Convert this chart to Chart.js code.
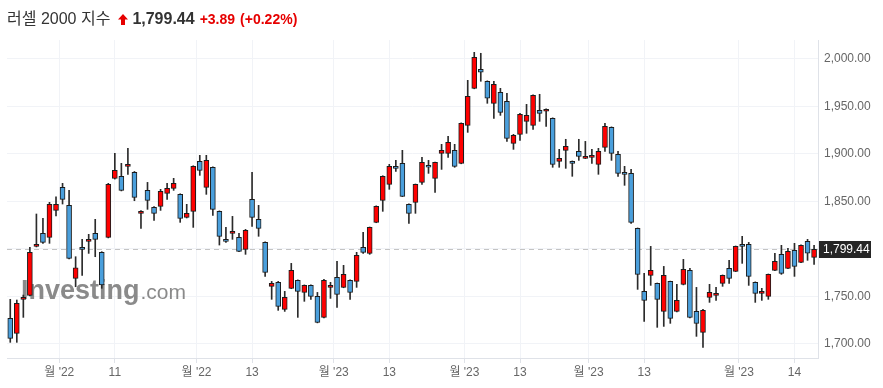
<!DOCTYPE html>
<html>
<head>
<meta charset="utf-8">
<script src="https://cdn.jsdelivr.net/npm/chart.js@4"></script>
<style>
    body { margin: 0; background: #fff; }
    .wrap { position: relative; width: 883px; height: 388px; }
    .head {
        position: absolute; left: 7px; top: 5px;
        font-family: "Liberation Sans", Arial, "Noto Sans CJK KR", sans-serif;
        white-space: nowrap; color: #333;
    }
    .head .name { font-size: 16px; }
    .head .last { font-size: 16px; font-weight: bold; margin-left: 4px; }
    .head .chg { font-size: 14px; font-weight: bold; color: #e60000; margin-left: 5px; }
    .head svg { margin-left: 8px; vertical-align: -1px; }
    canvas { position: absolute; left: 0; top: 0; }
</style>
</head>
<body>
<div class="wrap">
    <canvas id="c" width="883" height="388"></canvas>
    <div class="head">
        <span class="name">러셀 2000 지수</span><svg width="10" height="11" viewBox="0 0 10 11"><path d="M5 0 L10 5.5 L7 5.5 L7 11 L3 11 L3 5.5 L0 5.5 Z" fill="#e60000"/></svg><span class="last">1,799.44</span><span class="chg">+3.89</span><span class="chg">(+0.22%)</span>
    </div>
</div>
<script>
// daily candles
const opens = [1726.7, 1710.9, 1746.8, 1751.0, 1802.6, 1816.3, 1812.1, 1840.5, 1864.8, 1845.8,
    1768.9, 1801.6, 1807.9, 1816.3, 1796.3, 1812.1, 1874.3, 1876.4, 1886.9, 1880.6,
    1837.4, 1861.6, 1843.7, 1844.8, 1858.5, 1863.7, 1857.4, 1833.2, 1839.5, 1892.2,
    1864.8, 1885.9, 1839.5, 1810.0, 1816.3, 1812.1, 1799.4, 1852.1, 1831.1, 1806.8,
    1760.5, 1764.7, 1736.2, 1758.4, 1766.8, 1754.1, 1761.5, 1749.9, 1727.8, 1759.4,
    1769.9, 1759.4, 1766.8, 1765.7, 1801.6, 1795.2, 1827.9, 1851.1, 1867.9, 1886.9,
    1890.1, 1846.9, 1849.0, 1870.0, 1888.0, 1874.3, 1900.6, 1900.6, 1903.8, 1890.1,
    1930.1, 1969.1, 1989.1, 1976.5, 1953.3, 1964.9, 1955.4, 1911.1, 1920.6, 1934.3,
    1930.1, 1945.9, 1944.9, 1937.5, 1892.2, 1903.8, 1892.2, 1902.7, 1895.3, 1896.4,
    1889.0, 1906.9, 1928.0, 1899.5, 1880.6, 1879.5, 1821.6, 1755.2, 1772.1, 1763.6,
    1734.1, 1765.7, 1734.1, 1762.6, 1777.3, 1734.1, 1712.0, 1748.9, 1751.0, 1763.6,
    1779.4, 1776.3, 1804.7, 1804.7, 1764.7, 1753.1, 1749.9, 1777.3, 1794.2, 1779.4,
    1798.4, 1785.8, 1807.9, 1791.0];
const highs = [1746.8, 1746.1, 1751.3, 1801.6, 1836.7, 1832.1, 1849.0, 1854.9, 1869.0, 1861.6,
    1791.7, 1810.0, 1815.3, 1831.1, 1797.0, 1869.0, 1900.6, 1890.1, 1905.9, 1881.5,
    1840.2, 1870.0, 1844.5, 1862.7, 1869.0, 1874.3, 1858.0, 1846.9, 1887.5, 1898.5,
    1898.5, 1886.5, 1840.0, 1822.6, 1834.2, 1816.3, 1820.5, 1880.6, 1845.8, 1807.5,
    1765.7, 1765.7, 1755.2, 1784.7, 1767.3, 1762.0, 1762.0, 1754.1, 1767.8, 1764.7,
    1786.8, 1782.6, 1767.3, 1796.3, 1817.4, 1823.0, 1845.3, 1877.0, 1889.0, 1893.2,
    1903.8, 1847.3, 1868.3, 1896.4, 1893.2, 1891.5, 1910.1, 1918.5, 1910.1, 1932.7,
    1977.5, 2007.0, 2006.0, 1977.0, 1976.5, 1969.1, 1963.8, 1920.6, 1942.7, 1952.2,
    1962.2, 1962.8, 1947.5, 1938.0, 1904.8, 1915.4, 1892.6, 1915.4, 1913.2, 1904.8,
    1905.9, 1932.2, 1928.5, 1902.7, 1886.9, 1883.7, 1822.0, 1774.2, 1802.6, 1764.0,
    1781.5, 1766.0, 1762.6, 1788.9, 1779.4, 1759.4, 1736.2, 1762.6, 1759.4, 1772.5,
    1787.9, 1803.0, 1813.2, 1806.8, 1765.2, 1758.4, 1773.5, 1795.2, 1803.7, 1800.5,
    1805.8, 1804.2, 1810.0, 1803.7];
const lows = [1701.5, 1701.5, 1727.8, 1750.5, 1802.0, 1805.8, 1805.8, 1834.6, 1847.2, 1789.5,
    1760.1, 1772.1, 1795.2, 1791.7, 1758.4, 1811.5, 1873.5, 1861.0, 1878.5, 1850.7,
    1821.6, 1841.6, 1830.0, 1840.5, 1852.1, 1861.6, 1827.9, 1832.5, 1822.6, 1877.4,
    1857.4, 1835.3, 1804.0, 1806.8, 1810.0, 1797.0, 1794.2, 1823.7, 1813.2, 1771.0,
    1746.8, 1735.2, 1734.1, 1758.0, 1727.8, 1744.7, 1746.8, 1722.0, 1727.3, 1747.8,
    1738.3, 1759.0, 1746.8, 1759.4, 1795.2, 1794.2, 1827.5, 1839.5, 1862.7, 1881.6,
    1855.0, 1826.8, 1837.4, 1867.9, 1879.5, 1859.5, 1883.7, 1896.4, 1885.9, 1889.6,
    1922.7, 1968.6, 1976.5, 1953.3, 1937.5, 1940.6, 1913.2, 1904.8, 1914.3, 1921.7,
    1925.9, 1934.3, 1929.0, 1885.9, 1885.9, 1884.8, 1876.4, 1893.2, 1895.0, 1890.1,
    1878.5, 1902.7, 1893.2, 1876.4, 1866.9, 1826.8, 1757.3, 1723.6, 1761.5, 1717.3,
    1718.3, 1721.5, 1733.6, 1762.0, 1727.3, 1707.8, 1696.2, 1743.6, 1745.7, 1760.5,
    1763.6, 1776.0, 1784.7, 1761.5, 1743.6, 1745.7, 1746.8, 1777.0, 1773.1, 1779.0,
    1771.0, 1785.3, 1787.9, 1783.6];
const closes = [1705.7, 1742.6, 1748.9, 1796.3, 1804.7, 1806.8, 1846.9, 1846.9, 1852.1, 1790.0,
    1780.1, 1799.4, 1810.0, 1810.0, 1761.9, 1867.9, 1882.7, 1861.6, 1889.0, 1854.2,
    1839.5, 1851.1, 1837.4, 1860.6, 1863.7, 1869.0, 1832.1, 1837.4, 1886.9, 1882.7,
    1893.2, 1841.6, 1813.2, 1807.9, 1818.4, 1797.3, 1819.5, 1833.2, 1821.6, 1775.2,
    1763.6, 1739.4, 1748.9, 1777.3, 1755.2, 1761.5, 1749.9, 1722.5, 1766.8, 1761.5,
    1752.0, 1773.1, 1754.1, 1793.1, 1796.3, 1822.6, 1844.8, 1876.4, 1886.9, 1884.8,
    1855.3, 1837.4, 1867.9, 1891.1, 1885.9, 1891.1, 1903.8, 1912.2, 1886.9, 1932.2,
    1960.7, 2001.8, 1986.0, 1958.6, 1973.3, 1943.8, 1916.4, 1919.6, 1941.7, 1940.6,
    1961.7, 1942.7, 1947.0, 1889.0, 1895.3, 1908.0, 1890.1, 1897.4, 1897.4, 1898.5,
    1902.7, 1929.0, 1900.6, 1879.5, 1878.5, 1827.9, 1773.1, 1745.7, 1777.3, 1746.8,
    1772.1, 1726.7, 1745.7, 1778.4, 1727.8, 1721.5, 1735.2, 1754.1, 1753.1, 1772.1,
    1768.9, 1802.6, 1802.6, 1771.0, 1753.1, 1755.2, 1773.1, 1786.8, 1774.2, 1797.3,
    1781.5, 1803.7, 1795.55, 1799.44];

// x axis: candle index where each label sits, and its text
const tickIdx = [7.5, 16, 28.5, 37, 49.5, 58, 69.5, 78, 88.5, 97, 111.5, 120];
const tickLabels = ["월 '22", '11', "월 '22", '13', "월 '23", '13', "월 '23", '13', "월 '23", '13', "월 '23", '14'];

const lastClose = closes[closes.length - 1];
const upColor = '#ff0000';
const downColor = '#4a9fdc';

const fmt = v => v.toLocaleString('en-US', { minimumFractionDigits: 2, maximumFractionDigits: 2 });

const extras = {
    id: 'extras',
    beforeDatasetsDraw(chart) {
        const { ctx, chartArea } = chart;
        const y = chart.scales.y.getPixelForValue(lastClose);
        ctx.save();
        // watermark
        ctx.fillStyle = 'rgba(125,125,125,0.9)';
        ctx.textBaseline = 'alphabetic';
        ctx.font = 'bold 27px "Liberation Sans", Arial';
        ctx.fillText('Investing', 21, 299);
        const w = ctx.measureText('Investing').width;
        ctx.font = '21px "Liberation Sans", Arial';
        ctx.fillText('.com', 21 + w + 1, 299);
        // last price line
        ctx.strokeStyle = '#c4c4c4';
        ctx.lineWidth = 1;
        ctx.setLineDash([5, 4]);
        ctx.beginPath();
        ctx.moveTo(chartArea.left, Math.round(y) + 0.5);
        ctx.lineTo(chartArea.right, Math.round(y) + 0.5);
        ctx.stroke();
        ctx.restore();
    },
    afterDraw(chart) {
        const { ctx, chartArea } = chart;
        const y = Math.round(chart.scales.y.getPixelForValue(lastClose));
        ctx.save();
        ctx.fillStyle = '#262626';
        ctx.fillRect(chartArea.right + 1, y - 8, 52, 17);
        ctx.fillStyle = '#fff';
        ctx.font = '12px "Liberation Sans", Arial';
        ctx.textBaseline = 'middle';
        ctx.fillText(fmt(lastClose), chartArea.right + 5, y + 1);
        ctx.restore();
    }
};

const wicks = lows.map((l, i) => ({ x: i, y: [l, highs[i]] }));
const bodies = opens.map((o, i) => ({ x: i, y: [o, closes[i]] }));
const bodyColors = opens.map((o, i) => closes[i] >= o ? upColor : downColor);

new Chart(document.getElementById('c').getContext('2d'), {
    type: 'bar',
    plugins: [extras],
    data: {
        datasets: [{
            data: bodies,
            backgroundColor: bodyColors,
            borderColor: '#1c1c1c',
            borderWidth: 1,
            borderSkipped: false,
            barThickness: 5,
            grouped: false,
            order: 0,
        }, {
            data: wicks,
            backgroundColor: '#2b2b2b',
            borderWidth: 0,
            barThickness: 1,
            grouped: false,
            order: 1,
        }]
    },
    options: {
        responsive: false,
        animation: false,
        devicePixelRatio: 1,
        layout: { padding: { top: 40, left: 7, right: 0, bottom: 0 } },
        plugins: {
            legend: { display: false },
            tooltip: { enabled: false },
            title: { display: false },
        },
        scales: {
            x: {
                type: 'linear',
                offset: false,
                min: -0.5,
                max: 123.6,
                afterBuildTicks: scale => { scale.ticks = tickIdx.map(v => ({ value: v })); },
                afterFit: scale => { scale.height = 30; },
                ticks: {
                    autoSkip: false,
                    maxRotation: 0,
                    padding: 2,
                    color: '#666',
                    font: { family: '"Liberation Sans", Arial, "Noto Sans CJK KR"', size: 12 },
                    callback: (v, i) => tickLabels[i],
                },
                grid: { offset: false, color: '#f1f3f7', tickColor: '#dfe2e8', tickLength: 5 },
                border: { color: '#dfe2e8' },
            },
            y: {
                position: 'right',
                min: 1685,
                max: 2020,
                afterFit: scale => { scale.width = 65; },
                ticks: {
                    stepSize: 50,
                    includeBounds: false,
                    padding: 6,
                    color: '#666',
                    font: { family: '"Liberation Sans", Arial', size: 12 },
                    callback: v => fmt(v),
                },
                grid: { color: '#f1f3f7', drawTicks: false },
                border: { color: '#dfe2e8' },
            }
        }
    }
});
</script>
</body>
</html>
